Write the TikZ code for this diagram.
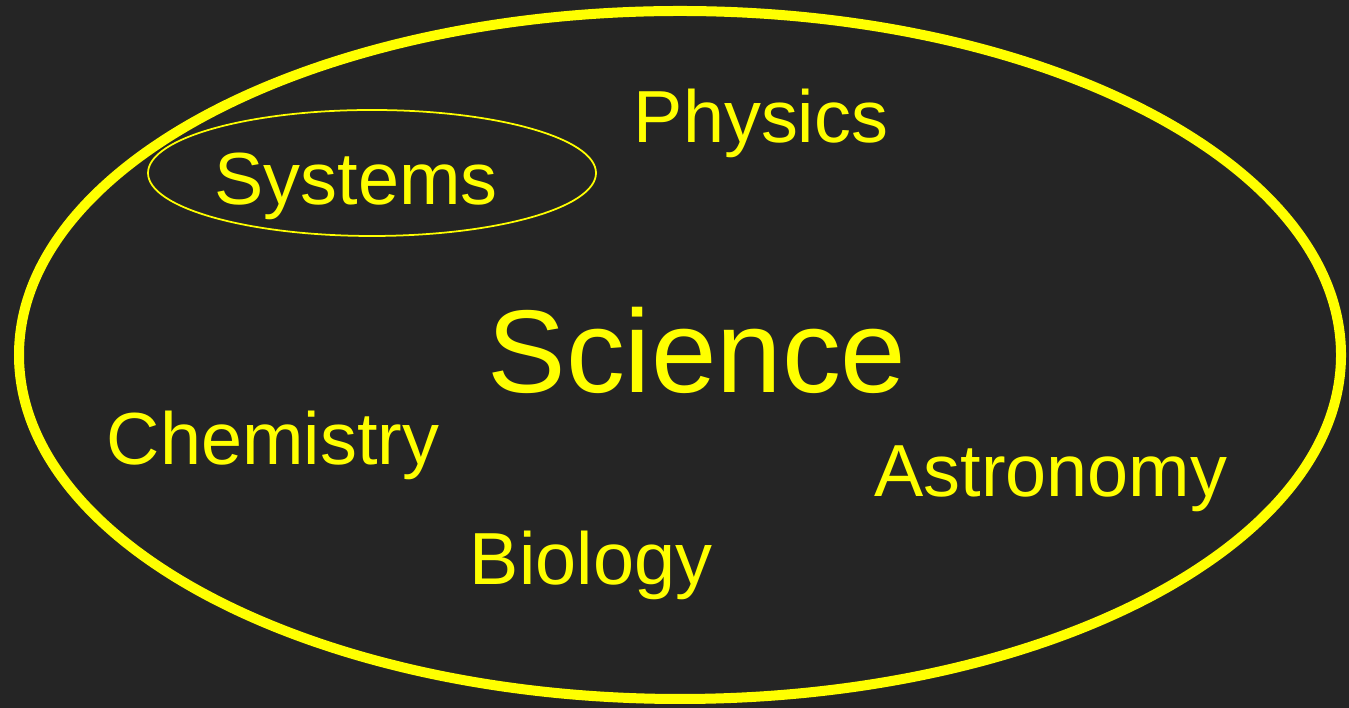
\documentclass[tikz,border=0pt]{standalone}
\usepackage{fontspec}
\setmainfont{Liberation Sans}
\usetikzlibrary{positioning, shapes.geometric}
\definecolor{slidebg}{HTML}{252525}
\definecolor{hiyellow}{HTML}{FFFF00}
\tikzset{
    topic/.style={text=hiyellow, inner sep=0pt, anchor=base, font=\fontsize{21pt}{24pt}\selectfont},
    bigtopic/.style={topic, font=\fontsize{33.5pt}{38pt}\selectfont},
    outerring/.style={ellipse, draw=hiyellow, line width=0.1cm, minimum width=13.22cm, minimum height=6.88cm, inner sep=0pt},
    innerring/.style={ellipse, draw=hiyellow, line width=0.5pt, minimum width=4.48cm, minimum height=1.26cm, inner sep=0pt}
}

\begin{document}
\begin{tikzpicture}
\fill[slidebg] (0,0) rectangle (13.49,7.08);
\useasboundingbox (0,0) rectangle (13.49,7.08);
\node[outerring] (field) at (6.80,3.53) {};
\node[innerring] (sysring) at (3.72,5.35) {};
\node[bigtopic] (science) at (6.97,3.15) {Science};
\node[topic] (systems) at (3.56,5.03) {Systems};
\node[topic] (physics) at (7.61,5.65) {Physics};
\node[topic] (chemistry) at (2.73,2.43) {Chemistry};
\node[topic] (astronomy) at (10.51,2.11) {Astronomy};
\node[topic] (biology) at (5.91,1.23) {Biology};
\end{tikzpicture}
\end{document}
